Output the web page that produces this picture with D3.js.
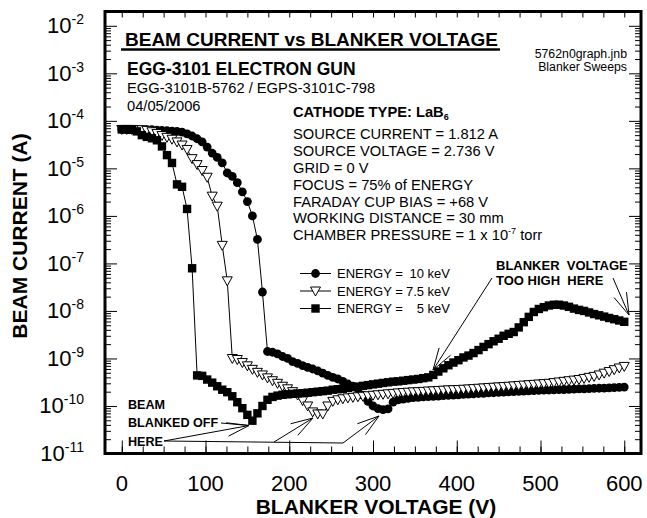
<!DOCTYPE html>
<html>
<head>
<meta charset="utf-8">
<script src="https://cdn.jsdelivr.net/npm/d3@7"></script>
<style>
body { margin: 0; background: #fff; }
svg text { font-family: "Liberation Sans", Arial, sans-serif; fill: #000; }
</style>
</head>
<body>
<script>
/* Data: blanker voltage (V) and beam current (A) */
var voltages = [0,6,12,18,24,30,36,42,48,54,60,66,72,78,84,90,96,102,108,114,
	120,126,132,138,144,150,156,162,168,174,180,186,192,198,204,210,216,222,228,234,
	240,246,252,258,264,270,276,282,288,294,300,306,312,318,324,330,336,342,348,354,
	360,366,372,378,384,390,396,402,408,414,420,426,432,438,444,450,456,462,468,474,
	480,486,492,498,504,510,516,522,528,534,540,546,552,558,564,570,576,582,588,594,600];

var current10 = [6.6e-5,6.6e-5,6.6e-5,6.6e-5,6.5e-5,6.5e-5,6.5e-5,6.4e-5,6.3e-5,6.2e-5,
	6.1e-5,6.0e-5,5.8e-5,5.3e-5,4.8e-5,4.2e-5,3.6e-5,2.8e-5,2.1e-5,1.7e-5,
	1.3e-5,8.0e-6,6.8e-6,5.0e-6,3.2e-6,2.0e-6,1.0e-6,3.2e-7,2.5e-8,1.4e-9,
	1.35e-9,1.25e-9,1.1e-9,1.0e-9,8.6e-10,7.9e-10,7.1e-10,6.5e-10,6.0e-10,5.5e-10,
	4.9e-10,4.4e-10,4.0e-10,3.7e-10,3.3e-10,2.9e-10,2.6e-10,2.3e-10,1.7e-10,1.25e-10,
	1.0e-10,8.8e-11,8.4e-11,8.7e-11,1.2e-10,1.35e-10,1.4e-10,1.45e-10,1.5e-10,1.52e-10,
	1.55e-10,1.58e-10,1.6e-10,1.62e-10,1.65e-10,1.67e-10,1.7e-10,1.72e-10,1.75e-10,1.78e-10,
	1.8e-10,1.83e-10,1.85e-10,1.88e-10,1.9e-10,1.93e-10,1.95e-10,1.98e-10,2.0e-10,2.02e-10,
	2.05e-10,2.08e-10,2.1e-10,2.12e-10,2.15e-10,2.17e-10,2.19e-10,2.2e-10,2.22e-10,2.24e-10,
	2.26e-10,2.28e-10,2.3e-10,2.32e-10,2.34e-10,2.36e-10,2.38e-10,2.4e-10,2.43e-10,2.46e-10,
	2.5e-10];

var current75 = [6.6e-5,6.6e-5,6.6e-5,6.5e-5,6.5e-5,6.3e-5,5.9e-5,5.4e-5,4.9e-5,4.5e-5,
	4.1e-5,3.6e-5,3.1e-5,2.5e-5,1.6e-5,1.2e-5,9.0e-6,6.5e-6,2.6e-6,1.6e-6,
	2.4e-7,4.3e-8,1.0e-9,9.5e-10,8.2e-10,7.0e-10,5.9e-10,5.1e-10,4.5e-10,3.9e-10,
	3.4e-10,3.0e-10,2.6e-10,2.3e-10,2.0e-10,1.7e-10,1.3e-10,1.0e-10,7.5e-11,6.8e-11,
	6.8e-11,1.0e-10,1.25e-10,1.35e-10,1.42e-10,1.48e-10,1.52e-10,1.56e-10,1.6e-10,1.64e-10,
	1.68e-10,1.72e-10,1.76e-10,1.8e-10,1.84e-10,1.88e-10,1.92e-10,1.95e-10,1.98e-10,2.0e-10,
	2.03e-10,2.06e-10,2.09e-10,2.12e-10,2.15e-10,2.18e-10,2.2e-10,2.22e-10,2.25e-10,2.28e-10,
	2.32e-10,2.36e-10,2.4e-10,2.44e-10,2.48e-10,2.52e-10,2.56e-10,2.6e-10,2.65e-10,2.7e-10,
	2.75e-10,2.8e-10,2.85e-10,2.9e-10,2.95e-10,3.0e-10,3.1e-10,3.2e-10,3.3e-10,3.4e-10,
	3.5e-10,3.6e-10,3.8e-10,4.0e-10,4.2e-10,4.5e-10,4.9e-10,5.3e-10,5.8e-10,6.3e-10,
	6.8e-10];

var current5 = [6.6e-5,6.6e-5,6.5e-5,6.0e-5,5.0e-5,4.6e-5,4.3e-5,3.9e-5,2.9e-5,1.9e-5,
	1.3e-5,4.6e-6,4.1e-6,1.4e-6,7.9e-8,4.4e-10,4.3e-10,3.6e-10,3.1e-10,2.6e-10,
	2.2e-10,1.95e-10,1.6e-10,1.2e-10,9.0e-11,6.5e-11,4.9e-11,7.0e-11,1.0e-10,1.35e-10,
	1.55e-10,1.65e-10,1.72e-10,1.76e-10,1.8e-10,1.83e-10,1.86e-10,1.9e-10,1.95e-10,2.0e-10,
	2.05e-10,2.1e-10,2.2e-10,2.25e-10,2.3e-10,2.4e-10,2.5e-10,2.55e-10,2.65e-10,2.75e-10,
	2.85e-10,2.95e-10,3.05e-10,3.15e-10,3.25e-10,3.3e-10,3.4e-10,3.5e-10,3.6e-10,3.7e-10,
	3.85e-10,4.0e-10,4.5e-10,5.3e-10,6.2e-10,7.2e-10,8.2e-10,9.2e-10,1.05e-9,1.15e-9,
	1.3e-9,1.5e-9,1.75e-9,2.0e-9,2.3e-9,2.6e-9,3.0e-9,3.3e-9,3.6e-9,4.5e-9,
	5.8e-9,7.5e-9,9.5e-9,1.1e-8,1.2e-8,1.3e-8,1.35e-8,1.35e-8,1.3e-8,1.22e-8,
	1.12e-8,1.05e-8,1.0e-8,9.3e-9,8.6e-9,8.1e-9,7.6e-9,7.1e-9,6.7e-9,6.3e-9,
	5.9e-9];

var seriesNames = ["10 keV", "7.5 keV", "5 keV"];
var xTickValues = [0, 100, 200, 300, 400, 500, 600];
var yExponents = [-2, -3, -4, -5, -6, -7, -8, -9, -10, -11];

var infoLines = ["SOURCE CURRENT = 1.812 A", "SOURCE VOLTAGE = 2.736 V", "GRID = 0 V",
	"FOCUS = 75% of ENERGY", "FARADAY CUP BIAS = +68 V", "WORKING DISTANCE = 30 mm"];

/* Display setup */
var width = 647, height = 518,
	plot = {left: 105, right: 641, top: 11.5, bottom: 453.5},
	svg = d3.select("body").append("svg").attr("width", width).attr("height", height);

var x = d3.scaleLinear().domain([-20, 620]).range([plot.left, plot.right]),
	y = d3.scaleLog().domain([1e-11, 2e-2]).range([plot.bottom, plot.top]);

/* Tick marks, all pointing inward, on the four sides */
var xMinor = d3.range(0, 601, 25),
	yMajor = yExponents.map(function(e) { return Math.pow(10, e); }),
	yMinor = [];
for (var e = -11; e <= -3; e++) {
	for (var k = 2; k <= 9; k++) yMinor.push(k * Math.pow(10, e));
}

function tickAxis(axis, tx, ty) {
	svg.append("g")
		.attr("transform", "translate(" + tx + "," + ty + ")")
		.call(axis.tickFormat(""))
		.call(function(g) { g.select(".domain").remove(); })
		.selectAll("line").attr("stroke-width", 1);
}
tickAxis(d3.axisBottom(x).tickValues(xMinor).tickSize(-7), 0, plot.bottom);
tickAxis(d3.axisBottom(x).tickValues(xTickValues).tickSize(-13), 0, plot.bottom);
tickAxis(d3.axisTop(x).tickValues(xMinor).tickSize(-6), 0, plot.top);
tickAxis(d3.axisLeft(y).tickValues(yMinor).tickSize(-6), plot.left, 0);
tickAxis(d3.axisLeft(y).tickValues(yMajor).tickSize(-12), plot.left, 0);
tickAxis(d3.axisRight(y).tickValues(yMinor).tickSize(-6), plot.right, 0);
tickAxis(d3.axisRight(y).tickValues(yMajor).tickSize(-12), plot.right, 0);

/* Tick labels */
svg.append("g").selectAll("text")
	.data(xTickValues)
	.enter().append("text")
		.attr("x", function(d) { return x(d); })
		.attr("y", 491)
		.attr("text-anchor", "middle")
		.attr("font-size", 22)
		.text(function(d) { return d; });

var yLab = svg.append("g").selectAll("text")
	.data(yExponents)
	.enter().append("text")
		.attr("x", 84)
		.attr("y", function(d) { return y(Math.pow(10, d)) + 7.5; })
		.attr("text-anchor", "end")
		.attr("font-size", 22);
yLab.append("tspan").text("10");
yLab.append("tspan").attr("font-size", 14).attr("dy", -9).text(function(d) { return "-" + Math.abs(d); });

/* Axis titles */
svg.append("text")
	.attr("x", 376).attr("y", 514)
	.attr("text-anchor", "middle")
	.attr("font-size", 21).attr("font-weight", "bold")
	.text("BLANKER VOLTAGE (V)");
svg.append("text")
	.attr("transform", "translate(27,236) rotate(-90)")
	.attr("text-anchor", "middle")
	.attr("font-size", 21).attr("font-weight", "bold")
	.text("BEAM CURRENT (A)");

/* Series */
var line = d3.line()
	.x(function(d) { return x(d.v); })
	.y(function(d) { return y(d.i); });

function rows(values) {
	return voltages.map(function(v, i) { return {v: v, i: values[i]}; });
}

var triPath = "M-5,-4L5,-4L0,5Z";

function drawMarker(sel, kind) {
	if (kind == "circle") {
		sel.append("circle").attr("r", 4.4).attr("fill", "#000");
	} else if (kind == "triangle") {
		sel.append("path").attr("d", triPath).attr("fill", "#fff").attr("stroke", "#000").attr("stroke-width", 1);
	} else {
		sel.append("rect").attr("x", -4.2).attr("y", -4.2).attr("width", 8.4).attr("height", 8.4).attr("fill", "#000");
	}
}

var series = [
	{name: seriesNames[0], values: current10, marker: "circle"},
	{name: seriesNames[1], values: current75, marker: "triangle"},
	{name: seriesNames[2], values: current5, marker: "square"}
];

series.forEach(function(s) {
	var data = rows(s.values),
		g = svg.append("g");
	g.append("path")
		.datum(data)
		.attr("d", line)
		.attr("fill", "none")
		.attr("stroke", "#000")
		.attr("stroke-width", 1);
	g.selectAll("g.pt")
		.data(data)
		.enter().append("g")
			.attr("class", "pt")
			.attr("transform", function(d) { return "translate(" + x(d.v) + "," + y(d.i) + ")"; })
			.each(function() { drawMarker(d3.select(this), s.marker); });
});

/* Frame */
svg.append("rect")
	.attr("x", plot.left).attr("y", plot.top)
	.attr("width", plot.right - plot.left).attr("height", plot.bottom - plot.top)
	.attr("fill", "none").attr("stroke", "#000").attr("stroke-width", 3);

/* Header texts */
var title = svg.append("text")
	.attr("x", 125).attr("y", 46)
	.attr("font-size", 19).attr("font-weight", "bold")
	.text("BEAM CURRENT vs BLANKER VOLTAGE");
var titleLen = title.node().getComputedTextLength();
svg.append("line")
	.attr("x1", 121).attr("x2", 125 + titleLen + 2)
	.attr("y1", 49.5).attr("y2", 49.5)
	.attr("stroke", "#000").attr("stroke-width", 2.5);

svg.append("text").attr("x", 127).attr("y", 75)
	.attr("font-size", 17.5).attr("font-weight", "bold")
	.text("EGG-3101 ELECTRON GUN");
svg.append("text").attr("x", 127).attr("y", 93)
	.attr("font-size", 14.7)
	.text("EGG-3101B-5762 / EGPS-3101C-798");
svg.append("text").attr("x", 127).attr("y", 110.5)
	.attr("font-size", 14.7)
	.text("04/05/2006");

svg.append("text").attr("x", 627).attr("y", 58)
	.attr("text-anchor", "end").attr("font-size", 12.3)
	.text("5762n0graph.jnb");
svg.append("text").attr("x", 627).attr("y", 71)
	.attr("text-anchor", "end").attr("font-size", 12.3)
	.text("Blanker Sweeps");

/* Run conditions */
var cath = svg.append("text").attr("x", 293).attr("y", 117.3)
	.attr("font-size", 14.7).attr("font-weight", "bold");
cath.append("tspan").text("CATHODE TYPE: LaB");
cath.append("tspan").attr("font-size", 9).attr("dy", 3).text("6");

svg.append("g").selectAll("text")
	.data(infoLines)
	.enter().append("text")
		.attr("x", 293)
		.attr("y", function(d, i) { return 139.3 + i * 16.83; })
		.attr("font-size", 14.7)
		.text(function(d) { return d; });
var cham = svg.append("text").attr("x", 293).attr("y", 139.3 + 6 * 16.83).attr("font-size", 14.7);
cham.append("tspan").text("CHAMBER PRESSURE = 1 x 10");
cham.append("tspan").attr("font-size", 9).attr("dy", -6).text("-7");
cham.append("tspan").attr("dy", 6).text(" torr");

/* Legend */
var legend = svg.append("g").selectAll("g")
	.data(series)
	.enter().append("g")
		.attr("transform", function(d, i) { return "translate(0," + (273.5 + i * 17.5) + ")"; });
legend.append("line").attr("x1", 300).attr("x2", 331).attr("stroke", "#000").attr("stroke-width", 1);
legend.append("g").attr("transform", "translate(315.5,0)")
	.each(function(d) { drawMarker(d3.select(this), d.marker); });
legend.append("text").attr("x", 337).attr("y", 4.7).attr("font-size", 13).text("ENERGY =");
legend.append("text").attr("x", 450).attr("y", 4.7).attr("font-size", 13)
	.attr("text-anchor", "end").text(function(d) { return d.name; });

/* Annotations */
var ann = svg.append("g").attr("stroke", "#000").attr("stroke-width", 1).attr("fill", "none");

function arrow(x1, y1, x2, y2, head) {
	ann.append("line").attr("x1", x1).attr("y1", y1).attr("x2", x2).attr("y2", y2);
	if (!head) return;
	var a = Math.atan2(y1 - y2, x1 - x2);
	[a - 0.3, a + 0.3].forEach(function(b) {
		ann.append("line")
			.attr("x1", x2).attr("y1", y2)
			.attr("x2", x2 + 23 * Math.cos(b)).attr("y2", y2 + 23 * Math.sin(b));
	});
}

function label(txt, lx, ly) {
	svg.append("text").attr("x", lx).attr("y", ly)
		.attr("font-size", 12.6).attr("font-weight", "bold")
		.style("white-space", "pre")
		.text(txt);
}

label("BEAM", 128, 409.3);
label("BLANKED OFF", 128, 427.3);
label("HERE", 128, 446);
arrow(221, 423, 249, 425.5, false);
arrow(164, 441, 249, 425.5, true);
arrow(164, 441, 343, 443, false);
arrow(274, 442, 313, 418, true);
arrow(343, 443, 379, 416, true);

svg.append("text").attr("x", 496).attr("y", 269.5)
	.attr("font-size", 13).attr("font-weight", "bold").style("white-space", "pre")
	.text("BLANKER  VOLTAGE");
svg.append("text").attr("x", 496).attr("y", 285)
	.attr("font-size", 13).attr("font-weight", "bold").style("white-space", "pre")
	.text("TOO HIGH  HERE");
arrow(492, 278, 433, 370, true);
arrow(613, 278, 629, 315, true);
</script>
</body>
</html>
